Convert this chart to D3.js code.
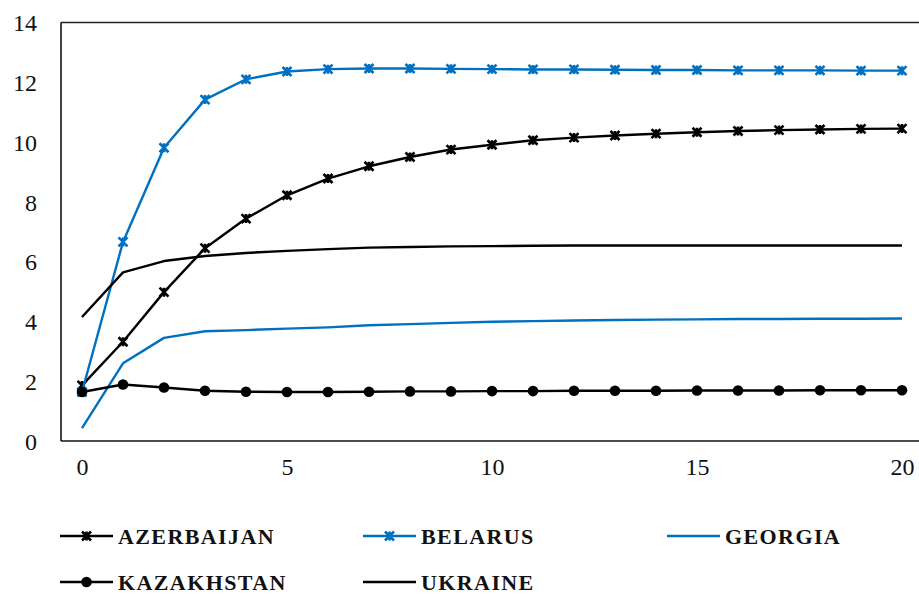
<!DOCTYPE html>
<html>
<head>
<meta charset="utf-8">
<script src="https://cdn.jsdelivr.net/npm/d3@7/dist/d3.min.js"></script>
<style>
  html, body { margin: 0; padding: 0; background: #fff; }
  svg { display: block; }
  svg text { font-family: "Liberation Serif", "DejaVu Serif", serif !important; fill: #111; }
</style>
</head>
<body>
<svg id="chart" width="919" height="594"></svg>
<script>
const periods = d3.range(0, 21);
const azerbaijan = [1.86, 3.32, 4.98, 6.45, 7.44, 8.22, 8.78, 9.19, 9.50, 9.75, 9.91, 10.06, 10.15, 10.22, 10.28, 10.33, 10.37, 10.40, 10.42, 10.44, 10.45];
const belarus    = [1.64, 6.66, 9.81, 11.42, 12.10, 12.36, 12.44, 12.46, 12.46, 12.45, 12.44, 12.43, 12.43, 12.42, 12.41, 12.41, 12.40, 12.40, 12.40, 12.39, 12.39];
const georgia    = [0.43, 2.60, 3.45, 3.67, 3.71, 3.76, 3.80, 3.87, 3.91, 3.95, 3.99, 4.01, 4.03, 4.05, 4.06, 4.07, 4.08, 4.08, 4.09, 4.09, 4.10];
const kazakhstan = [1.64, 1.89, 1.79, 1.68, 1.65, 1.64, 1.64, 1.65, 1.66, 1.66, 1.67, 1.67, 1.68, 1.68, 1.68, 1.69, 1.69, 1.69, 1.70, 1.70, 1.70];
const ukraine    = [4.15, 5.64, 6.02, 6.19, 6.29, 6.36, 6.42, 6.47, 6.49, 6.51, 6.52, 6.53, 6.54, 6.54, 6.54, 6.54, 6.54, 6.54, 6.54, 6.54, 6.54];
const yTicks = [0, 2, 4, 6, 8, 10, 12, 14];
const xTicks = [0, 5, 10, 15, 20];

const BLUE = "#0070C0", BLACK = "#000";
const series = [
  { name: "AZERBAIJAN", values: azerbaijan, color: BLACK, marker: "star" },
  { name: "BELARUS",    values: belarus,    color: BLUE,  marker: "star" },
  { name: "GEORGIA",    values: georgia,    color: BLUE,  marker: null },
  { name: "KAZAKHSTAN", values: kazakhstan, color: BLACK, marker: "circle" },
  { name: "UKRAINE",    values: ukraine,    color: BLACK, marker: null }
];

const FONT = "'Liberation Serif', 'DejaVu Serif', serif";
const svg = d3.select("#chart");
const x = d3.scaleLinear().domain([0, 20]).range([82, 902]);
const y = d3.scaleLinear().domain([0, 14]).range([441, 22.5]);

// frame (left, top, bottom)
const frame = svg.append("g");
frame.append("line").attr("x1", 61).attr("x2", 61).attr("y1", y(14)).attr("y2", y(0))
  .attr("stroke", "#111").attr("stroke-width", 1.6);
frame.append("line").attr("x1", 61).attr("x2", 919).attr("y1", y(14)).attr("y2", y(14))
  .attr("stroke", "#222").attr("stroke-width", 1.6);
frame.append("line").attr("x1", 61).attr("x2", 919).attr("y1", y(0)).attr("y2", y(0))
  .attr("stroke", "#111").attr("stroke-width", 1.6);

// y axis labels
const yAxis = d3.axisLeft(y).tickValues(yTicks).tickSize(0).tickPadding(0);
const gy = svg.append("g").attr("transform", "translate(37,0)").call(yAxis)
  .attr("font-family", FONT).attr("font-size", 24);
gy.select(".domain").remove();
gy.selectAll("text").attr("fill", "#111").attr("dy", "0.34em");

// x axis labels
const xAxis = d3.axisBottom(x).tickValues(xTicks).tickSize(0).tickPadding(0);
const gx = svg.append("g").attr("transform", "translate(0,461)").call(xAxis)
  .attr("font-family", FONT).attr("font-size", 24);
gx.select(".domain").remove();
gx.selectAll("text").attr("fill", "#111").attr("dy", "0.6em");

function starPath(s) {
  return `M${-s},${-s}L${s},${s}M${-s},${s}L${s},${-s}M0,${-s}L0,${s}`;
}
function drawMarker(g, type, color, cx, cy) {
  if (type === "star") {
    g.append("path").attr("d", starPath(4.5)).attr("transform", `translate(${cx},${cy})`)
      .attr("stroke", color).attr("stroke-width", 2.6).attr("fill", "none");
  } else if (type === "circle") {
    g.append("circle").attr("cx", cx).attr("cy", cy).attr("r", 5.3).attr("fill", color);
  }
}

const line = d3.line().x((d, i) => x(periods[i])).y(d => y(d));
series.forEach(s => {
  const g = svg.append("g");
  g.append("path").attr("d", line(s.values)).attr("fill", "none")
    .attr("stroke", s.color).attr("stroke-width", 2.4).attr("stroke-linejoin", "round");
  if (s.marker) s.values.forEach((v, i) => drawMarker(g, s.marker, s.color, x(periods[i]), y(v)));
});

// legend
const legendPos = [
  { lx: 60, ly: 536 }, { lx: 363, ly: 536 }, { lx: 667, ly: 536 },
  { lx: 60, ly: 582 }, { lx: 363, ly: 582 }
];
series.forEach((s, i) => {
  const p = legendPos[i];
  const g = svg.append("g");
  g.append("line").attr("x1", p.lx).attr("x2", p.lx + 53).attr("y1", p.ly).attr("y2", p.ly)
    .attr("stroke", s.color).attr("stroke-width", 2.4);
  if (s.marker) drawMarker(g, s.marker, s.color, p.lx + 26.5, p.ly);
  g.append("text").attr("x", p.lx + 58).attr("y", p.ly + 8)
    .attr("font-family", FONT).attr("font-size", 22).attr("font-weight", "bold")
    .style("letter-spacing", "1.4px")
    .text(s.name);
});
</script>
</body>
</html>
